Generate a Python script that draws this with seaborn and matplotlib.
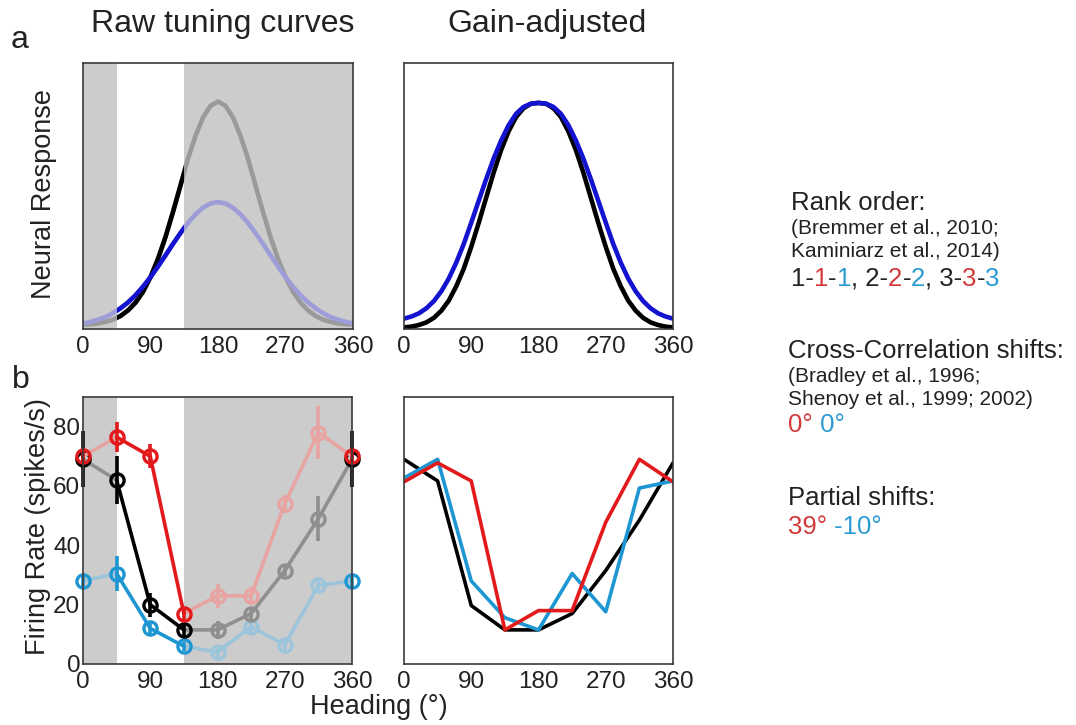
import matplotlib
matplotlib.use('Agg')
import matplotlib.pyplot as plt
import seaborn as sns
from matplotlib.patches import Rectangle

# ---------------- data ----------------
# model tuning curves (panel a), read every 10 deg
theta = list(range(0, 361, 10))
tall_raw = [0.017, 0.018, 0.021, 0.027, 0.035, 0.049, 0.070, 0.099, 0.140, 0.195,
            0.264, 0.346, 0.440, 0.540, 0.640, 0.726, 0.795, 0.839, 0.855,
            0.839, 0.795, 0.726, 0.640, 0.540, 0.440, 0.346, 0.264, 0.195,
            0.140, 0.099, 0.070, 0.049, 0.035, 0.027, 0.021, 0.018, 0.017]
wide_raw = [0.021, 0.027, 0.035, 0.045, 0.060, 0.078, 0.100, 0.127, 0.159, 0.195,
            0.235, 0.277, 0.320, 0.361, 0.399, 0.431, 0.456, 0.472, 0.477,
            0.472, 0.456, 0.431, 0.399, 0.361, 0.320, 0.277, 0.235, 0.195,
            0.159, 0.127, 0.100, 0.078, 0.060, 0.045, 0.035, 0.027, 0.021]
narrow_norm = [0.006, 0.009, 0.015, 0.025, 0.042, 0.069, 0.107, 0.161, 0.227, 0.309,
               0.399, 0.494, 0.588, 0.673, 0.743, 0.797, 0.830, 0.847, 0.850,
               0.847, 0.830, 0.797, 0.743, 0.673, 0.588, 0.494, 0.399, 0.309,
               0.227, 0.161, 0.107, 0.069, 0.042, 0.025, 0.015, 0.009, 0.006]
wide_norm = [0.039, 0.047, 0.059, 0.078, 0.105, 0.142, 0.190, 0.250, 0.320, 0.400,
             0.482, 0.564, 0.641, 0.709, 0.766, 0.809, 0.835, 0.847, 0.850,
             0.847, 0.835, 0.809, 0.766, 0.709, 0.641, 0.564, 0.482, 0.400,
             0.320, 0.250, 0.190, 0.142, 0.105, 0.078, 0.059, 0.047, 0.039]

# recorded neuron (panel b)
headings = [0, 45, 90, 135, 180, 225, 270, 315, 360]
black_fr = [69, 62, 20, 11.5, 11.5, 17, 31.5, 49, 69]
black_err = [9.5, 8, 4, 2, 3, 2, 2, 7.5, 9.5]
red_fr = [70, 76.5, 70, 17, 23, 23, 54, 78, 70]
red_err = [2, 5, 4, 2, 4, 3, 3, 9, 2]
blue_fr = [28, 30.5, 12, 6, 4, 12.5, 6.5, 26.5, 28]
blue_err = [2, 6, 2, 1.5, 1.5, 2, 2, 2, 2]

# gain-adjusted traces (panel b, right)
black_adj = [69, 61.7, 19.7, 11.5, 11.5, 17, 31.5, 48.5, 67.8]
red_adj = [61.4, 67.8, 61.7, 11.5, 18, 18, 47.8, 69, 61.4]
blue_adj = [62.7, 69, 28, 15.6, 11.5, 30.5, 17.6, 59.3, 61.7]

xtick_pos = [0, 45, 90, 135, 180, 225, 270, 315, 360]
xtick_labels = ['0', '', '90', '', '180', '', '270', '', '360']
fr_ticks = [0, 20, 40, 60, 80]
norm_ticks = [1 / 6, 2 / 6, 3 / 6, 4 / 6, 5 / 6]

# ---------------- style ----------------
sns.set_style('white')
plt.rcParams['font.family'] = ['Liberation Sans', 'DejaVu Sans']
TXT = '#222222'

W, H = 1076, 725
fig = plt.figure(figsize=(W / 100, H / 100), dpi=100)


def axrect(l, t, r, b):
    return [l / W, 1 - b / H, (r - l) / W, (b - t) / H]


ax1 = fig.add_axes(axrect(83, 63, 353, 329))
ax2 = fig.add_axes(axrect(404, 63, 673, 329))
ax3 = fig.add_axes(axrect(83, 397, 352, 664))
ax4 = fig.add_axes(axrect(404, 397, 673, 664))

for ax in (ax1, ax2, ax3, ax4):
    ax.set_xlim(0, 360)
    ax.set_xticks(xtick_pos)
    ax.set_xticklabels(xtick_labels)
    ax.tick_params(direction='in', length=4, width=1, labelsize=17.5,
                   colors='#333333', labelcolor=TXT, pad=5)
    for s in ax.spines.values():
        s.set_visible(True)
        s.set_color('#3a3a3a')
        s.set_linewidth(1.2)
    ax.set_facecolor('white')

for ax in (ax1, ax3):
    ax.axvspan(0, 45, color='#cccccc', lw=0, zorder=0)
    ax.axvspan(135, 360, color='#cccccc', lw=0, zorder=0)

ax1.set_ylim(0, 1)
ax2.set_ylim(0, 1)
ax1.set_yticks([])
ax2.set_yticks(norm_ticks)
ax2.set_yticklabels([])
ax3.set_ylim(0, 90)
ax4.set_ylim(0, 90)
ax3.set_yticks(fr_ticks)
ax3.set_yticklabels([str(v) for v in fr_ticks])
ax3.tick_params(axis='y', pad=2)
ax4.set_yticks(fr_ticks)
ax4.set_yticklabels([])

# ---------------- panel a ----------------
LW_A = 3.3
sns.lineplot(x=theta, y=tall_raw, ax=ax1, color='#9a9a9a', lw=LW_A, sort=False, errorbar=None)
sns.lineplot(x=theta, y=wide_raw, ax=ax1, color='#9d9dd8', lw=LW_A, sort=False, errorbar=None)
sns.lineplot(x=theta, y=tall_raw, ax=ax1, color='black', lw=LW_A, sort=False, errorbar=None)
ax1.lines[-1].set_clip_path(Rectangle((45, -1), 90, 3, transform=ax1.transData))
sns.lineplot(x=theta, y=wide_raw, ax=ax1, color='#1414d0', lw=LW_A, sort=False, errorbar=None)
ax1.lines[-1].set_clip_path(Rectangle((45, -1), 90, 3, transform=ax1.transData))

sns.lineplot(x=theta, y=narrow_norm, ax=ax2, color='black', lw=LW_A, sort=False, errorbar=None)
sns.lineplot(x=theta, y=wide_norm, ax=ax2, color='#1414d0', lw=LW_A, sort=False, errorbar=None)

# ---------------- panel b (raw) ----------------
LW_B = 2.6
MS = 9.5
MEW = 2.4
series = [
    (blue_fr, blue_err, '#1e96d2', '#9cc5dc'),
    (black_fr, black_err, 'black', '#8f8f8f'),
    (red_fr, red_err, '#e31a1c', '#e8a3a3'),
]
for vals, errs, dark, light in series:
    # light parts (grey shaded directions)
    for idx in ([0, 1], [3, 4, 5, 6, 7, 8]):
        sns.lineplot(x=[headings[i] for i in idx], y=[vals[i] for i in idx], ax=ax3,
                     color=light, lw=LW_B, sort=False, errorbar=None)
    lidx = [4, 5, 6, 7]
    ax3.errorbar([headings[i] for i in lidx], [vals[i] for i in lidx],
                 yerr=[errs[i] for i in lidx], fmt='none', ecolor=light,
                 elinewidth=LW_B, capsize=0)
    sns.lineplot(x=[headings[i] for i in lidx], y=[vals[i] for i in lidx], ax=ax3,
                 color=light, lw=0, marker='o', ms=MS, mfc='none', mec=light, mew=MEW,
                 sort=False, errorbar=None)
    # dark part (unshaded directions)
    didx = [1, 2, 3]
    sns.lineplot(x=[headings[i] for i in didx], y=[vals[i] for i in didx], ax=ax3,
                 color=dark, lw=LW_B, sort=False, errorbar=None)
    eidx = [0, 1, 2, 3, 8]
    ax3.errorbar([headings[i] for i in eidx], [vals[i] for i in eidx],
                 yerr=[errs[i] for i in eidx], fmt='none', ecolor=dark,
                 elinewidth=LW_B, capsize=0, clip_on=False)
    sns.lineplot(x=[headings[i] for i in eidx], y=[vals[i] for i in eidx], ax=ax3,
                 color=dark, lw=0, marker='o', ms=MS, mfc='none', mec=dark, mew=MEW,
                 sort=False, errorbar=None, clip_on=False)

# ---------------- panel b (gain-adjusted) ----------------
sns.lineplot(x=headings, y=black_adj, ax=ax4, color='black', lw=LW_B, sort=False, errorbar=None)
sns.lineplot(x=headings, y=blue_adj, ax=ax4, color='#1e96d2', lw=LW_B, sort=False, errorbar=None)
sns.lineplot(x=headings, y=red_adj, ax=ax4, color='#e31a1c', lw=LW_B, sort=False, errorbar=None)

for ax in (ax1, ax2, ax3, ax4):
    ax.set_xlabel('')
    ax.set_ylabel('')


# ---------------- texts ----------------
def ftext(x, y, s, **kw):
    kw.setdefault('color', TXT)
    return fig.text(x / W, 1 - y / H, s, **kw)


ftext(223, 32, 'Raw tuning curves', fontsize=23, ha='center', va='baseline')
ftext(547, 32, 'Gain-adjusted', fontsize=23, ha='center', va='baseline')
ftext(20, 40, 'a', fontsize=23, ha='center', va='center')
ftext(21, 380, 'b', fontsize=23, ha='center', va='center')
ftext(44, 194, 'Neural Response', fontsize=19.5, rotation=90, ha='center', va='center')
ftext(38, 527, 'Firing Rate (spikes/s)', fontsize=19.5, rotation=90, ha='center', va='center')
ftext(379, 707, 'Heading (°)', fontsize=19.5, ha='center', va='center')

renderer = fig.canvas.get_renderer()
RED_T = '#d23a3a'
BLUE_T = '#2c9ad2'


def rich(x, y, parts, size):
    for s, c in parts:
        t = ftext(x, y, s, fontsize=size, color=c, ha='left', va='baseline')
        x += t.get_window_extent(renderer).width


XR = 791
ftext(XR, 210, 'Rank order:', fontsize=18.5, va='baseline')
ftext(XR, 234, '(Bremmer et al., 2010;', fontsize=15, va='baseline')
ftext(XR, 257, 'Kaminiarz et al., 2014)', fontsize=15, va='baseline')
rich(XR, 286, [('1-', TXT), ('1', RED_T), ('-', TXT), ('1', BLUE_T), (', 2-', TXT),
               ('2', RED_T), ('-', TXT), ('2', BLUE_T), (', 3-', TXT), ('3', RED_T),
               ('-', TXT), ('3', BLUE_T)], 18.5)
ftext(XR - 3, 358, 'Cross-Correlation shifts:', fontsize=18.5, va='baseline')
ftext(XR - 3, 382, '(Bradley et al., 1996;', fontsize=15, va='baseline')
ftext(XR - 3, 405, 'Shenoy et al., 1999; 2002)', fontsize=15, va='baseline')
rich(XR - 3, 432, [('0°', RED_T), (' 0°', BLUE_T)], 18.5)
ftext(XR - 3, 505, 'Partial shifts:', fontsize=18.5, va='baseline')
rich(XR - 3, 534, [('39°', RED_T), (' -10°', BLUE_T)], 18.5)

fig.savefig('out.png', dpi=100)
